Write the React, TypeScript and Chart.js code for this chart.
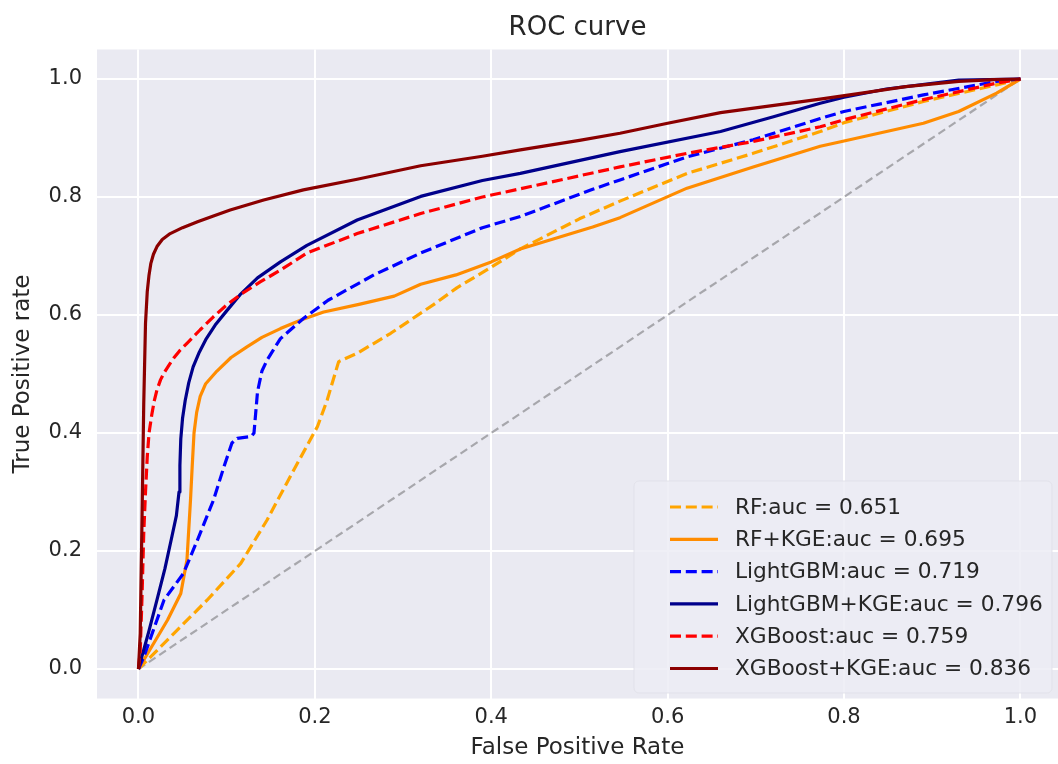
import React, { useEffect, useRef } from "react";
import { Chart, registerables } from "chart.js";

Chart.register(...registerables);

// ---------- data ----------
const titleText = "ROC curve";
const xAxisTitle = "False Positive Rate";
const yAxisTitle = "True Positive rate";
const tickValues = [0, 0.2, 0.4, 0.6, 0.8, 1.0];

const seriesLabels = [
  "RF:auc = 0.651",
  "RF+KGE:auc = 0.695",
  "LightGBM:auc = 0.719",
  "LightGBM+KGE:auc = 0.796",
  "XGBoost:auc = 0.759",
  "XGBoost+KGE:auc = 0.836",
];

const rfFpr = [0, 0.04, 0.078, 0.116, 0.146, 0.172, 0.203, 0.214, 0.227, 0.248, 0.286, 0.305, 0.335, 0.361, 0.399, 0.433, 0.5, 0.546, 0.622, 0.697, 0.773, 0.8, 0.89, 0.973, 1.0];
const rfTpr = [0, 0.06, 0.117, 0.179, 0.253, 0.326, 0.411, 0.456, 0.521, 0.535, 0.569, 0.588, 0.618, 0.646, 0.68, 0.712, 0.763, 0.793, 0.84, 0.874, 0.911, 0.926, 0.962, 0.99, 1.0];

const rfKgeFpr = [0, 0.033, 0.048, 0.055, 0.059, 0.061, 0.063, 0.066, 0.07, 0.076, 0.089, 0.105, 0.123, 0.14, 0.161, 0.185, 0.21, 0.25, 0.29, 0.32, 0.36, 0.4, 0.433, 0.515, 0.546, 0.622, 0.697, 0.773, 0.8, 0.89, 0.93, 0.973, 1.0];
const rfKgeTpr = [0, 0.083, 0.128, 0.185, 0.286, 0.345, 0.4, 0.435, 0.462, 0.483, 0.505, 0.528, 0.546, 0.562, 0.577, 0.592, 0.605, 0.618, 0.632, 0.652, 0.668, 0.69, 0.712, 0.749, 0.765, 0.815, 0.851, 0.886, 0.895, 0.925, 0.945, 0.976, 1.0];

const lgbFpr = [0, 0.006, 0.029, 0.051, 0.067, 0.085, 0.097, 0.106, 0.112, 0.128, 0.131, 0.135, 0.14, 0.146, 0.153, 0.161, 0.187, 0.215, 0.267, 0.32, 0.39, 0.433, 0.515, 0.546, 0.622, 0.697, 0.773, 0.8, 0.89, 0.973, 1.0];
const lgbTpr = [0, 0.02, 0.117, 0.162, 0.219, 0.286, 0.343, 0.383, 0.391, 0.394, 0.4, 0.47, 0.505, 0.524, 0.541, 0.56, 0.594, 0.625, 0.668, 0.705, 0.748, 0.767, 0.813, 0.829, 0.868, 0.897, 0.933, 0.945, 0.973, 0.996, 1.0];

const lgbKgeFpr = [0, 0.012, 0.021, 0.03, 0.038, 0.043, 0.046, 0.047, 0.048, 0.05, 0.053, 0.057, 0.062, 0.069, 0.077, 0.087, 0.1, 0.115, 0.135, 0.161, 0.191, 0.248, 0.32, 0.39, 0.433, 0.546, 0.66, 0.72, 0.773, 0.8, 0.848, 0.93, 1.0];
const lgbKgeTpr = [0, 0.065, 0.117, 0.17, 0.225, 0.26, 0.3, 0.345, 0.39, 0.425, 0.455, 0.485, 0.512, 0.537, 0.56, 0.583, 0.607, 0.634, 0.663, 0.69, 0.718, 0.761, 0.801, 0.828, 0.84, 0.877, 0.911, 0.936, 0.959, 0.969, 0.983, 0.998, 1.0];

const xgbFpr = [0, 0.002, 0.004, 0.006, 0.008, 0.01, 0.012, 0.015, 0.018, 0.021, 0.025, 0.029, 0.035, 0.04, 0.047, 0.055, 0.07, 0.085, 0.1, 0.116, 0.138, 0.161, 0.191, 0.248, 0.32, 0.39, 0.433, 0.546, 0.622, 0.697, 0.773, 0.8, 0.89, 0.973, 1.0];
const xgbTpr = [0, 0.03, 0.12, 0.23, 0.3, 0.36, 0.4, 0.43, 0.455, 0.473, 0.49, 0.502, 0.516, 0.527, 0.54, 0.552, 0.575, 0.597, 0.617, 0.635, 0.656, 0.676, 0.705, 0.738, 0.772, 0.8, 0.814, 0.851, 0.874, 0.894, 0.919, 0.931, 0.965, 0.993, 1.0];

const xgbKgeFpr = [0, 0.002, 0.004, 0.006, 0.008, 0.01, 0.012, 0.014, 0.017, 0.021, 0.027, 0.036, 0.05, 0.067, 0.085, 0.104, 0.142, 0.187, 0.248, 0.32, 0.39, 0.433, 0.5, 0.546, 0.6, 0.66, 0.773, 0.82, 0.87, 0.93, 0.97, 1.0];
const xgbKgeTpr = [0, 0.06, 0.25, 0.45, 0.586, 0.64, 0.668, 0.687, 0.703, 0.716, 0.728, 0.738, 0.748, 0.758, 0.768, 0.778, 0.795, 0.812, 0.83, 0.853, 0.869, 0.88, 0.896, 0.908, 0.925, 0.943, 0.966, 0.976, 0.987, 0.996, 0.999, 1.0];

const chanceFpr = [0, 1];
const chanceTpr = [0, 1];

// ---------- styles ----------
const seriesFpr = [rfFpr, rfKgeFpr, lgbFpr, lgbKgeFpr, xgbFpr, xgbKgeFpr];
const seriesTpr = [rfTpr, rfKgeTpr, lgbTpr, lgbKgeTpr, xgbTpr, xgbKgeTpr];
const seriesColors = ["#FFA500", "#FF8C00", "#0000FF", "#00008B", "#FF0000", "#8B0000"];
const DASH = [11, 4.8];
const LW = 3.2;
const seriesDashed = [true, false, true, false, true, false];
const TEXT = "#262626";
const FONT = "'DejaVu Sans', sans-serif";

const toPoints = (xs: number[], ys: number[]) => xs.map((x, i) => ({ x, y: ys[i] }));

const bgPlugin = {
  id: "bgPlugin",
  beforeDraw(chart: any) {
    const { ctx, chartArea: a } = chart;
    ctx.save();
    ctx.fillStyle = "#ffffff";
    ctx.fillRect(0, 0, chart.width, chart.height);
    ctx.fillStyle = "#EAEAF2";
    ctx.fillRect(a.left, a.top, a.right - a.left, a.bottom - a.top);
    ctx.restore();
  },
};

const legendPlugin = {
  id: "roclegend",
  afterDraw(chart: any) {
    const { ctx } = chart;
    ctx.save();
    const bx = 634, by = 481, bw = 418, bh = 212;
    ctx.fillStyle = "rgba(236,236,244,0.85)";
    ctx.strokeStyle = "rgba(225,225,233,0.9)";
    ctx.lineWidth = 1;
    ctx.beginPath();
    const r = 5;
    ctx.moveTo(bx + r, by);
    ctx.arcTo(bx + bw, by, bx + bw, by + bh, r);
    ctx.arcTo(bx + bw, by + bh, bx, by + bh, r);
    ctx.arcTo(bx, by + bh, bx, by, r);
    ctx.arcTo(bx, by, bx + bw, by, r);
    ctx.closePath();
    ctx.fill();
    ctx.stroke();
    ctx.font = `21.7px ${FONT}`;
    ctx.textBaseline = "middle";
    ctx.textAlign = "left";
    seriesLabels.forEach((label, i) => {
      const y = 507 + i * 32.3;
      ctx.strokeStyle = seriesColors[i];
      ctx.lineWidth = LW;
      ctx.lineCap = "butt";
      ctx.setLineDash(seriesDashed[i] ? DASH : []);
      ctx.beginPath();
      ctx.moveTo(670, y);
      ctx.lineTo(718, y);
      ctx.stroke();
      ctx.setLineDash([]);
      ctx.fillStyle = TEXT;
      ctx.fillText(label, 735, y + 1);
    });
    ctx.restore();
  },
};

export default function App() {
  const ref = useRef<HTMLCanvasElement>(null);

  useEffect(() => {
    document.body.style.margin = "0";
    const canvas = ref.current;
    if (!canvas) return;
    Chart.defaults.font.family = FONT;
    Chart.defaults.color = TEXT;

    const datasets: any[] = seriesLabels.map((label, i) => ({
      label,
      data: toPoints(seriesFpr[i], seriesTpr[i]),
      borderColor: seriesColors[i],
      backgroundColor: seriesColors[i],
      borderWidth: LW,
      borderDash: seriesDashed[i] ? DASH : [],
      borderCapStyle: "butt",
      borderJoinStyle: "round",
      pointRadius: 0,
      showLine: true,
      fill: false,
      tension: 0,
      order: seriesLabels.length - i,
    }));
    datasets.push({
      label: "chance",
      data: toPoints(chanceFpr, chanceTpr),
      borderColor: "rgba(160,160,164,0.9)",
      borderWidth: 2.2,
      borderDash: [8, 4.5],
      borderCapStyle: "butt",
      pointRadius: 0,
      showLine: true,
      fill: false,
      order: 100,
    });

    const chart = new Chart(canvas, {
      type: "scatter",
      data: { datasets },
      options: {
        animation: false,
        responsive: false,
        maintainAspectRatio: false,
        layout: { padding: 0 },
        plugins: {
          legend: { display: false },
          tooltip: { enabled: false },
          title: {
            display: true,
            text: titleText,
            fullSize: false,
            color: TEXT,
            font: { size: 26, weight: "normal", family: FONT },
            padding: { top: 12.9, bottom: 5.4 },
          },
        },
        scales: {
          x: {
            type: "linear",
            min: -0.047,
            max: 1.0426,
            afterBuildTicks: (s: any) => {
              s.ticks = tickValues.map((v) => ({ value: v }));
            },
            afterFit: (s: any) => {
              s.height = 65.5;
            },
            ticks: {
              callback: (v: any) => Number(v).toFixed(1),
              font: { size: 21, family: FONT },
              color: TEXT,
              padding: 6,
              maxRotation: 0,
              autoSkip: false,
            },
            grid: { color: "#ffffff", lineWidth: 2, drawTicks: false },
            border: { display: false },
            title: {
              display: true,
              text: xAxisTitle,
              color: TEXT,
              font: { size: 23, family: FONT },
              padding: { top: 0, bottom: 2.2 },
            },
          },
          y: {
            type: "linear",
            min: -0.05,
            max: 1.05,
            afterBuildTicks: (s: any) => {
              s.ticks = tickValues.map((v) => ({ value: v }));
            },
            afterFit: (s: any) => {
              s.width = 97;
            },
            ticks: {
              callback: (v: any) => Number(v).toFixed(1),
              font: { size: 21, family: FONT },
              color: TEXT,
              padding: 15,
              autoSkip: false,
            },
            grid: { color: "#ffffff", lineWidth: 2, drawTicks: false },
            border: { display: false },
            title: {
              display: true,
              text: yAxisTitle,
              color: TEXT,
              font: { size: 23, family: FONT },
              padding: { top: 9, bottom: 0 },
            },
          },
        },
      },
      plugins: [bgPlugin, legendPlugin],
    } as any);

    return () => chart.destroy();
  }, []);

  return (
    <div style={{ position: "absolute", left: 0, top: 0, width: 1058, height: 764 }}>
      <canvas ref={ref} width={1058} height={764} style={{ display: "block", width: 1058, height: 764 }} />
    </div>
  );
}
